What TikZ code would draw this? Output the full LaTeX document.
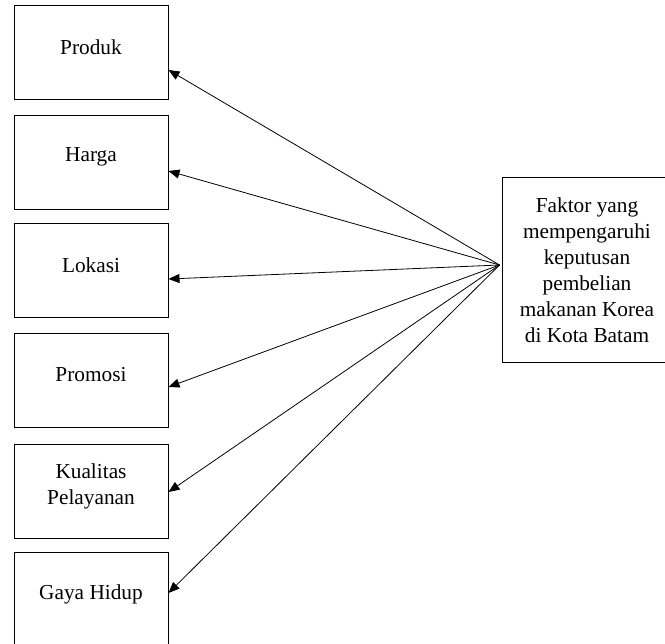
\documentclass[tikz,border=0pt]{standalone}
\usepackage{fontspec}
\setmainfont{Liberation Serif}
\usetikzlibrary{arrows.meta}
\begin{document}
\begin{tikzpicture}[x=1pt,y=-1pt,
  box/.style={draw,line width=1pt,minimum width=154pt,minimum height=94pt,inner sep=0pt},
  lbl/.style={font=\fontsize{21.3}{26}\selectfont,align=center,yshift=6pt},
  arr/.style={-{Triangle[length=11pt,width=9pt]},line width=0.8pt}]
\useasboundingbox (0,0) rectangle (665,644);
\clip (0,0) rectangle (665,644);
\node[box,label={[lbl]center:Produk}] (b1) at (91,53) {};
\node[box,label={[lbl]center:Harga}] (b2) at (91,163) {};
\node[box,label={[lbl]center:Lokasi}] (b3) at (91,271) {};
\node[box,label={[lbl]center:Promosi}] (b4) at (91,381) {};
\node[box,label={[lbl]center:Kualitas\\Pelayanan}] (b5) at (91,492) {};
\node[box,label={[lbl]center:Gaya Hidup}] (b6) at (91,600) {};
\node[draw,line width=1pt,minimum width=170pt,minimum height=185pt,inner sep=0pt,
      font=\fontsize{21.3}{26}\selectfont,align=center] (fk) at (587,270.5)
  {Faktor yang\\mempengaruhi\\keputusan\\pembelian\\makanan Korea\\di Kota Batam};
\coordinate (hub) at ([shift={(-2pt,5.5pt)}]fk.west);
\draw[arr] (hub) -- ([yshift=-17pt]b1.east);
\draw[arr] (hub) -- ([yshift=-8pt]b2.east);
\draw[arr] (hub) -- ([yshift=-8pt]b3.east);
\draw[arr] (hub) -- ([yshift=-6pt]b4.east);
\draw[arr] (hub) -- (b5.east);
\draw[arr] (hub) -- ([yshift=7pt]b6.east);
\end{tikzpicture}
\end{document}
